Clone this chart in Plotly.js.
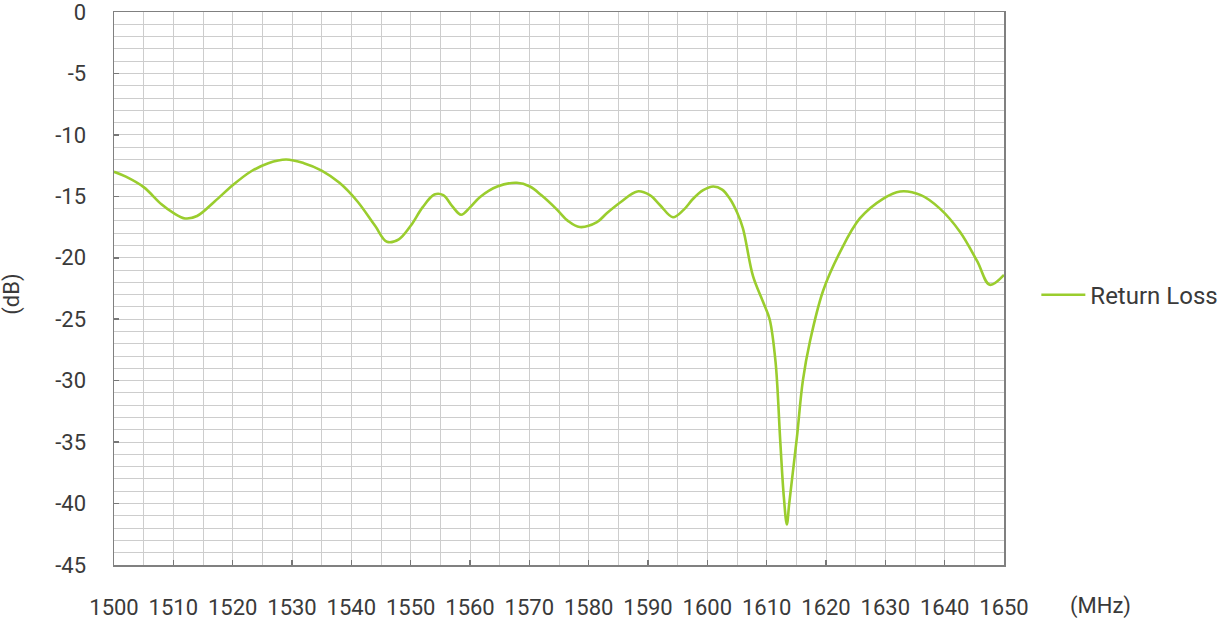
<!DOCTYPE html>
<html>
<head>
<meta charset="utf-8">
<script src="https://cdn.plot.ly/plotly-3.0.1.min.js"></script>
<style>html,body{margin:0;padding:0;background:#fff;}#chart{width:1225px;height:620px;}</style>
</head>
<body>
<div id="chart"></div>
<script>
const seriesName = "Return Loss";
const freqMHz = [1500, 1502, 1505, 1508, 1510, 1512, 1514, 1517, 1520, 1523, 1526, 1529, 1532, 1535, 1538, 1541, 1544, 1546, 1548, 1550, 1552, 1554, 1555.5, 1557, 1558.5, 1560, 1561.7, 1564.6, 1567.9, 1570.1, 1572, 1574.7, 1576.5, 1578.5, 1581.4, 1583, 1585.3, 1588.2, 1590.3, 1592, 1594.2, 1596, 1597.6, 1599.3, 1601, 1602.5, 1603.8, 1605, 1606, 1607.7, 1609.4, 1610.5, 1611.5, 1612.3, 1612.9, 1613.4, 1613.8, 1614.4, 1615.1, 1616.1, 1617.3, 1619.5, 1622.4, 1625.7, 1629.6, 1632.5, 1636, 1639.2, 1642.6, 1645.5, 1647.6, 1650];
const returnLossDb = [-13.0, -13.4, -14.25, -15.65, -16.35, -16.8, -16.6, -15.4, -14.1, -13.0, -12.3, -12.0, -12.3, -12.9, -13.9, -15.4, -17.4, -18.7, -18.5, -17.4, -15.9, -14.85, -14.9, -15.8, -16.5, -15.9, -15.05, -14.2, -13.9, -14.2, -14.9, -16.1, -17.0, -17.5, -17.1, -16.4, -15.5, -14.6, -14.9, -15.7, -16.7, -16.1, -15.2, -14.5, -14.2, -14.45, -15.2, -16.3, -17.6, -21.5, -23.6, -25.0, -28.5, -35.0, -39.5, -41.7, -40.0, -37.5, -34.6, -30.0, -26.8, -22.7, -19.5, -16.8, -15.2, -14.6, -14.9, -16.0, -17.9, -20.3, -22.2, -21.4];
const xTickVals = [1500, 1510, 1520, 1530, 1540, 1550, 1560, 1570, 1580, 1590, 1600, 1610, 1620, 1630, 1640, 1650];
const yTickVals = [0, -5, -10, -15, -20, -25, -30, -35, -40, -45];
const xUnit = "(MHz)";
const yUnit = "(dB)";

const font = {family: "Roboto, 'Noto Sans', sans-serif", size: 22, color: "#3a3a3a"};
const legendFont = {family: "Roboto, 'Noto Sans', sans-serif", size: 24, color: "#3a3a3a"};

const trace = {
  x: freqMHz, y: returnLossDb, name: seriesName, type: "scatter", mode: "lines",
  line: {color: "#9acd2e", width: 2.6, shape: "spline", smoothing: 1.0},
  showlegend: true
};

const layout = {
  width: 1225, height: 620,
  margin: {l: 114, r: 221, t: 12, b: 55},
  paper_bgcolor: "#ffffff", plot_bgcolor: "#ffffff",
  font: font,
  showlegend: true,
  legend: {xref: "container", yref: "container", x: 0.846, y: 0.524, xanchor: "left", yanchor: "middle", font: legendFont, itemwidth: 44, bgcolor: "rgba(0,0,0,0)"},
  xaxis: {
    range: [1500, 1650], tickmode: "array", tickvals: xTickVals, ticktext: xTickVals.map(String),
    ticks: "inside", ticklen: 5, tickcolor: "#777", tickwidth: 1.5,
    showline: true, linecolor: "#808080", linewidth: 1.5, mirror: true,
    showgrid: true, gridcolor: "#cdcdcd", gridwidth: 1,
    minor: {dtick: 5, tick0: 1500, showgrid: true, gridcolor: "#cdcdcd", gridwidth: 1, ticks: ""},
    zeroline: false, ticklabelstandoff: 22, ticklabeloverflow: "allow", tickfont: font, fixedrange: true
  },
  yaxis: {
    range: [-45, 0], tickmode: "array", tickvals: yTickVals, ticktext: yTickVals.map(String),
    ticks: "inside", ticklen: 5, tickcolor: "#777", tickwidth: 1.5,
    showline: true, linecolor: "#808080", linewidth: 1.5, mirror: true,
    showgrid: true, gridcolor: "#cdcdcd", gridwidth: 1,
    minor: {dtick: 1, tick0: 0, showgrid: true, gridcolor: "#cdcdcd", gridwidth: 1, ticks: ""},
    zeroline: false, ticklabelstandoff: 22, ticklabeloverflow: "allow", tickfont: font, fixedrange: true
  },
  annotations: [
    {text: xUnit, xref: "paper", yref: "paper", x: 1.108, y: -0.075, xanchor: "center", yanchor: "middle", showarrow: false, font: font},
    {text: yUnit, xref: "paper", yref: "paper", x: -0.115, y: 0.49, xanchor: "center", yanchor: "middle", textangle: -90, showarrow: false, font: font}
  ]
};

Plotly.newPlot("chart", [trace], layout, {displayModeBar: false, staticPlot: true});
</script>
</body>
</html>
